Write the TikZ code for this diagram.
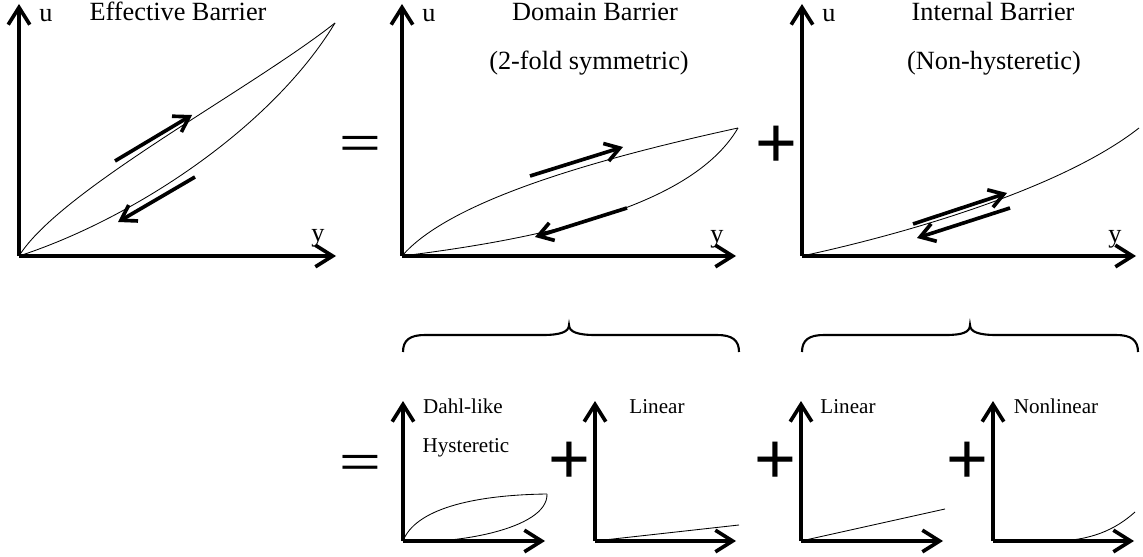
\documentclass[tikz,border=0pt]{standalone}
\usepackage{fontspec}
\setmainfont{Liberation Serif}
\newfontfamily\opfont{Liberation Sans}
\usetikzlibrary{arrows.meta}

\begin{document}
\begin{tikzpicture}[
    x=0.025cm, y=-0.025cm,
    axis/.style={-{Straight Barb[length=4.3mm,width=5.4mm]}, line width=2.6pt},
    flow/.style={-{Straight Barb[length=3.6mm,width=4.6mm]}, line width=2.6pt},
    curve/.style={line width=0.6pt},
    title/.style={anchor=base, font=\fontsize{18.7}{22}\selectfont, inner sep=0pt},
    small/.style={anchor=base, font=\fontsize{15}{18}\selectfont, inner sep=0pt},
    op/.style={font=\opfont\fontsize{51}{51}\selectfont, inner sep=0pt},
    grp/.style={line width=1.5pt}
]
    \useasboundingbox (0,0) rectangle (1143,557);

    % Effective barrier
    \coordinate (effO) at (19,256);
    \coordinate (effX) at (336,256);
    \coordinate (effY) at (19,4);
    \coordinate (effE) at (335,23);
    \draw[axis] (effO) -- (effY);
    \draw[axis] (effO) -- (effX);
    \node[title] (effu) at (46,22) {u};
    \node[title] (effy) at (318,242) {y};
    \node[title] (efft) at (178,21) {Effective Barrier};
    \draw[curve] (effO) .. controls (60,190) and (250,90) .. (effE);
    \draw[curve] (effO) .. controls (130,220) and (270,130) .. (effE);
    \coordinate (effupA) at (115,161);
    \coordinate (effupB) at (192,115);
    \coordinate (effdnA) at (195,177);
    \coordinate (effdnB) at (118,222);
    \draw[flow] (effupA) -- (effupB);
    \draw[flow] (effdnA) -- (effdnB);

    \node[op] (eq1) at (360,147) {\scalebox{1}[0.6]{=}};

    % Domain barrier
    \coordinate (domO) at (402,256);
    \coordinate (domX) at (736,256);
    \coordinate (domY) at (402,4);
    \coordinate (domE) at (738,128);
    \draw[axis] (domO) -- (domY);
    \draw[axis] (domO) -- (domX);
    \node[title] (domu) at (429,22) {u};
    \node[title] (domy) at (717,243) {y};
    \node[title] (domt) at (595,21) {Domain Barrier};
    \node[title] (doms) at (589,70) {(2-fold symmetric)};
    \draw[curve] (domO) .. controls (450,200) and (600,158) .. (domE);
    \draw[curve] (domO) .. controls (530,240) and (690,210) .. (domE);
    \coordinate (domupA) at (530,176);
    \coordinate (domupB) at (623,147);
    \coordinate (domdnA) at (627,208);
    \coordinate (domdnB) at (535,237);
    \draw[flow] (domupA) -- (domupB);
    \draw[flow] (domdnA) -- (domdnB);

    \node[op] (plus1) at (776,147) {+};

    % Internal barrier
    \coordinate (intO) at (802,256);
    \coordinate (intX) at (1136,256);
    \coordinate (intY) at (802,4);
    \coordinate (intE) at (1139,128);
    \draw[axis] (intO) -- (intY);
    \draw[axis] (intO) -- (intX);
    \node[title] (intu) at (829,22) {u};
    \node[title] (inty) at (1115,243) {y};
    \node[title] (intt) at (993,21) {Internal Barrier};
    \node[title] (ints) at (994,70) {(Non-hysteretic)};
    \draw[curve] (intO) .. controls (900,235) and (1060,190) .. (intE);
    \coordinate (intupA) at (913,224);
    \coordinate (intupB) at (1007,193);
    \coordinate (intdnA) at (1010,208);
    \coordinate (intdnB) at (917,238);
    \draw[flow] (intupA) -- (intupB);
    \draw[flow] (intdnA) -- (intdnB);

    % Braces
    \draw[grp] (403,352) .. controls (403,340) and (410,335) .. (425,335) -- (543,335)
        .. controls (560,335) and (569,332) .. (569,325)
        .. controls (569,332) and (578,335) .. (595,335) -- (717,335)
        .. controls (732,335) and (739,340) .. (739,352);
    \draw[grp] (802,352) .. controls (802,340) and (809,335) .. (824,335) -- (946,335)
        .. controls (963,335) and (970,332) .. (970,325)
        .. controls (970,332) and (979,335) .. (996,335) -- (1116,335)
        .. controls (1131,335) and (1138,340) .. (1138,352);

    \node[op] (eq2) at (360,466) {\scalebox{1}[0.6]{=}};

    % Dahl-like hysteretic
    \coordinate (dahlO) at (403,541);
    \coordinate (dahlX) at (545,541);
    \coordinate (dahlY) at (403,401);
    \coordinate (dahlE) at (547,494);
    \draw[axis] (dahlO) -- (dahlY);
    \draw[axis] (dahlO) -- (dahlX);
    \node[small] (dahlt) at (463,413) {Dahl-like};
    \node[small] (dahls) at (466,452) {Hysteretic};
    \draw[curve] (dahlO) .. controls (415,510) and (470,495) .. (dahlE);
    \draw[curve] (dahlE) .. controls (548,530) and (450,545) .. (dahlO);

    \node[op] (plus2) at (569,463) {+};

    % Linear (domain)
    \coordinate (linaO) at (595,541);
    \coordinate (linaX) at (736,541);
    \coordinate (linaY) at (595,401);
    \coordinate (linaE) at (739,525);
    \draw[axis] (linaO) -- (linaY);
    \draw[axis] (linaO) -- (linaX);
    \node[small] (linat) at (657,413) {Linear};
    \draw[curve] (linaO) -- (linaE);

    \node[op] (plus3) at (775,463) {+};

    % Linear (internal)
    \coordinate (linbO) at (801,541);
    \coordinate (linbX) at (943,541);
    \coordinate (linbY) at (801,401);
    \coordinate (linbE) at (945,509);
    \draw[axis] (linbO) -- (linbY);
    \draw[axis] (linbO) -- (linbX);
    \node[small] (linbt) at (848,413) {Linear};
    \draw[curve] (linbO) -- (linbE);

    \node[op] (plus4) at (967,463) {+};

    % Nonlinear
    \coordinate (nonO) at (993,541);
    \coordinate (nonX) at (1134,541);
    \coordinate (nonY) at (993,401);
    \coordinate (nonS) at (1053,541);
    \coordinate (nonE) at (1135,512);
    \draw[axis] (nonO) -- (nonY);
    \draw[axis] (nonO) -- (nonX);
    \node[small] (nont) at (1056,413) {Nonlinear};
    \draw[curve] (nonS) .. controls (1090,541) and (1115,530) .. (nonE);
\end{tikzpicture}
\end{document}
